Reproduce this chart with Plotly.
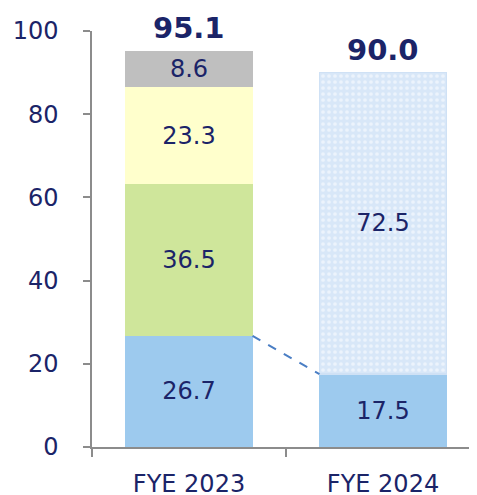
import plotly.graph_objects as go

categories = ["FYE 2023", "FYE 2024"]
seg_blue = [26.7, 17.5]
seg_green = [36.5, None]
seg_yellow = [23.3, None]
seg_gray = [8.6, None]
seg_pattern = [None, 72.5]
totals = [95.1, 90.0]
y_ticks = [0, 20, 40, 60, 80, 100]

NAVY = "#1B2468"
BAR_W = 0.655
xs = list(range(len(categories)))

def lbl(vals):
    return [("%.1f" % v) if v is not None else "" for v in vals]

fig = go.Figure()
series = [
    (seg_blue, "#9DCAEE", None),
    (seg_green, "#CFE69B", None),
    (seg_yellow, "#FFFFCC", None),
    (seg_gray, "#BFBFBF", None),
    (seg_pattern, "#DAE8F8", dict(shape=".", fgcolor="#FFFFFF", bgcolor="#D8E7F8", size=6, solidity=0.3)),
]
for vals, col, pat in series:
    marker = dict(color=col, line=dict(width=0))
    if pat:
        marker["pattern"] = pat
        marker["line"] = dict(width=1.5, color="#CFE1F5")
    fig.add_trace(go.Bar(
        x=xs, y=vals, width=BAR_W, marker=marker,
        text=lbl(vals), textposition="inside", insidetextanchor="middle",
        textangle=0, constraintext="none",
        textfont=dict(family="DejaVu Sans", size=24, color=NAVY),
        showlegend=False, hoverinfo="skip",
    ))

# dashed connector between blue segments
fig.add_trace(go.Scatter(
    x=[xs[0] + BAR_W / 2, xs[1] - BAR_W / 2], y=[seg_blue[0], seg_blue[1]],
    mode="lines", line=dict(color="#4A7EC4", width=2, dash="dash"),
    showlegend=False, hoverinfo="skip",
))

# totals
for x, t in zip(xs, totals):
    fig.add_annotation(
        x=x, y=t, text="<b>%.1f</b>" % t, showarrow=False,
        yanchor="bottom", yshift=4,
        font=dict(family="DejaVu Sans", size=29, color=NAVY),
    )

# page body has an 8px default margin; margins compensate so plot area sits as in reference
fig.update_layout(
    barmode="stack",
    width=477, height=495,
    margin=dict(l=84, r=5, t=23, b=56),
    plot_bgcolor="white", paper_bgcolor="white",
    font=dict(family="DejaVu Sans", color=NAVY),
)
fig.update_xaxes(
    range=[-0.5, 1.5], tickvals=xs, ticktext=categories, automargin=False,
    showline=True, linecolor="#8C8C8C", linewidth=1.5,
    ticks="", showgrid=False, zeroline=False, ticklabelstandoff=14,
    tickfont=dict(size=24, color=NAVY),
    minor=dict(ticks="outside", tick0=-0.5, dtick=1, ticklen=8, tickcolor="#8C8C8C", tickwidth=1.5, showgrid=False),
)
fig.update_yaxes(
    range=[0, 100], tickvals=y_ticks, automargin=False,
    showline=True, linecolor="#8C8C8C", linewidth=1.5,
    ticks="outside", ticklen=7, tickcolor="#8C8C8C", tickwidth=1.5,
    showgrid=False, zeroline=False, ticklabelstandoff=20,
    tickfont=dict(size=24, color=NAVY),
)
fig.write_html("out.html")
